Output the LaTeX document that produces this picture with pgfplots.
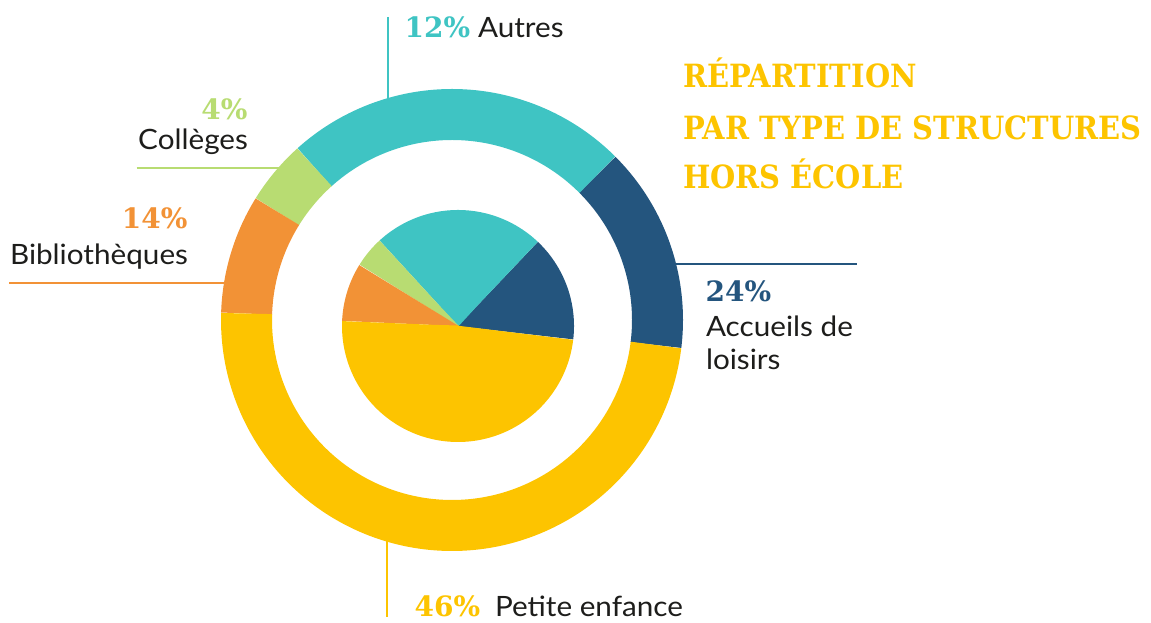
\documentclass[border=0pt]{standalone}
\usepackage{pgfplots}
\pgfplotsset{compat=1.18}
\usepackage{fontspec}
\setmainfont{Lato}[FakeStretch=1.06]
\newfontfamily\numfont{DejaVu Serif}
\newfontfamily\titlefont{DejaVu Serif}[FakeStretch=0.905]
\definecolor{cyel}{HTML}{FDC400}
\definecolor{cteal}{HTML}{3FC4C3}
\definecolor{cblue}{HTML}{24557E}
\definecolor{cgreen}{HTML}{B8DC72}
\definecolor{corange}{HTML}{F29236}
\definecolor{ctext}{HTML}{1D1D1B}
\begin{document}
\begin{tikzpicture}
\begin{axis}[x=1pt, y=1pt, xmin=0, xmax=1151, ymin=0, ymax=623,
  scale only axis, hide axis, clip=false,
  every node/.style={inner sep=0pt, outer sep=0pt}]
\path[use as bounding box] (axis cs:0,0) rectangle (axis cs:1151,623);
% outer ring: centre (452,303), mid radius 205.5, width 51 ; slice boundaries in degrees
\pgfplotsset{ring/.style={line width=51pt, line cap=butt, line join=miter, no marks, variable=\t}}
\addplot[ring, cblue,   domain=-7:45,    samples=60]  ({452+205.5*cos(t)},{303+205.5*sin(t)});
\addplot[ring, cteal,   domain=45:132,   samples=90]  ({452+205.5*cos(t)},{303+205.5*sin(t)});
\addplot[ring, cgreen,  domain=132:148.2, samples=20]  ({452+205.5*cos(t)},{303+205.5*sin(t)});
\addplot[ring, corange, domain=148.2:178.2,samples=32] ({452+205.5*cos(t)},{303+205.5*sin(t)});
\addplot[ring, cyel,    domain=178.2:353,samples=176] ({452+205.5*cos(t)},{303+205.5*sin(t)});
% inner pie: centre (458,297), radius 116
\pgfplotsset{pie/.style={line width=116pt, line cap=butt, line join=miter, no marks, variable=\t}}
\addplot[pie, cblue,   domain=-6.7:46.5,   samples=110] ({458+58*cos(t)},{297+58*sin(t)});
\addplot[pie, cteal,   domain=46.5:132.5,  samples=175] ({458+58*cos(t)},{297+58*sin(t)});
\addplot[pie, cgreen,  domain=132.5:148.2, samples=34]  ({458+58*cos(t)},{297+58*sin(t)});
\addplot[pie, corange, domain=148.2:177.5, samples=60]  ({458+58*cos(t)},{297+58*sin(t)});
\addplot[pie, cyel,    domain=177.5:353.3, samples=350] ({458+58*cos(t)},{297+58*sin(t)});
% leader lines
\addplot[cteal, line width=2pt, no marks] coordinates {(387.5,606) (387.5,524)};
\addplot[cgreen, line width=2pt, no marks] coordinates {(136.7,454.7) (280,454.7)};
\addplot[corange, line width=2pt, no marks] coordinates {(9,340.3) (226,340.3)};
\addplot[cblue, line width=2pt, no marks] coordinates {(674,359) (857,359)};
\addplot[cyel, line width=2pt, no marks] coordinates {(387.3,83) (387.3,6)};
% labels
\node[anchor=base west, text=cteal, font=\numfont\bfseries\fontsize{28}{30}\selectfont] at (axis cs:401,585.3) {12\%};
\node[anchor=base west, text=ctext, font=\fontsize{28}{30}\selectfont] at (axis cs:474.5,585.3) {Autres};
\node[anchor=base east, text=cgreen, font=\numfont\bfseries\fontsize{28}{30}\selectfont] at (axis cs:251,503.7) {4\%};
\node[anchor=base east, text=ctext, font=\fontsize{28}{30}\selectfont] at (axis cs:251.5,473.7) {Collèges};
\node[anchor=base east, text=corange, font=\numfont\bfseries\fontsize{28}{30}\selectfont] at (axis cs:191,394.7) {14\%};
\node[anchor=base east, text=ctext, font=\fontsize{28}{30}\selectfont] at (axis cs:191.5,358.7) {Bibliothèques};
\node[anchor=base west, text=cblue, font=\numfont\bfseries\fontsize{28}{30}\selectfont] at (axis cs:702,321.3) {24\%};
\node[anchor=base west, text=ctext, font=\fontsize{28}{30}\selectfont] at (axis cs:702.5,286.3) {Accueils de};
\node[anchor=base west, text=ctext, font=\fontsize{28}{30}\selectfont] at (axis cs:702.5,253) {loisirs};
\node[anchor=base west, text=cyel, font=\numfont\bfseries\fontsize{28}{30}\selectfont] at (axis cs:411,6) {46\%};
\node[anchor=base west, text=ctext, font=\fontsize{28}{30}\selectfont] at (axis cs:491.5,6) {Petite enfance};
% title
\node[anchor=base west, text=cyel, font=\titlefont\bfseries\fontsize{32}{34}\selectfont] at (axis cs:679.5,535.3) {RÉPARTITION};
\node[anchor=base west, text=cyel, font=\titlefont\bfseries\fontsize{32}{34}\selectfont] at (axis cs:679.5,483) {PAR TYPE DE STRUCTURES};
\node[anchor=base west, text=cyel, font=\titlefont\bfseries\fontsize{32}{34}\selectfont] at (axis cs:679.5,434.7) {HORS ÉCOLE};
\end{axis}
\end{tikzpicture}
\end{document}
